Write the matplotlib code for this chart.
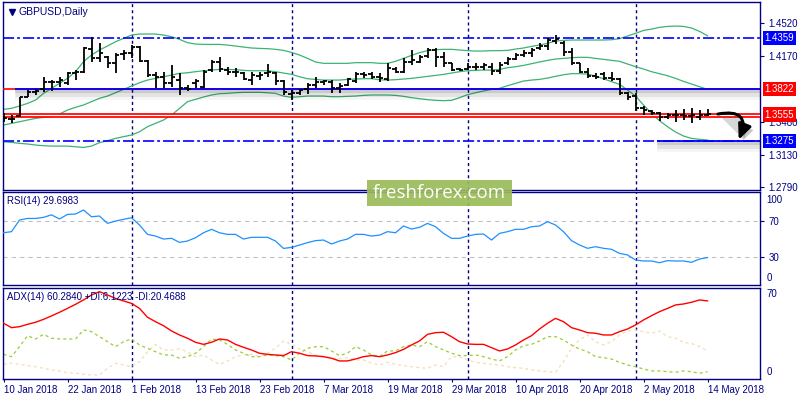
import matplotlib
matplotlib.use('Agg')
import matplotlib.pyplot as plt
import matplotlib.patheffects as pe
from matplotlib.patches import FancyArrowPatch, Rectangle
import numpy as np
import pandas as pd

plt.rcParams['font.family'] = ['Liberation Sans', 'DejaVu Sans']
plt.rcParams['lines.scale_dashes'] = False

# GBPUSD daily bars, 10 Jan - 14 May 2018
dates = pd.bdate_range('2018-01-10', '2018-05-14')

opens = [1.3532, 1.3504, 1.3539, 1.3742, 1.3795, 1.3820, 1.3900, 1.3897, 1.3890, 1.3988,
         1.4005, 1.4243, 1.4145, 1.4156, 1.4093, 1.4191, 1.4198, 1.4268, 1.4121, 1.3970,
         1.3953, 1.3883, 1.3918, 1.3830, 1.3890, 1.3847, 1.4023, 1.4110, 1.4023, 1.4005,
         1.3988, 1.3918, 1.3963, 1.3988, 1.3988, 1.3907, 1.3774, 1.3781, 1.3823, 1.3865,
         1.3900, 1.3900, 1.3830, 1.3865, 1.3911, 1.3981, 1.3977, 1.3953, 1.3925, 1.4030,
         1.4005, 1.4110, 1.4110, 1.4170, 1.4233, 1.4163, 1.4093, 1.4030, 1.4030, 1.4051,
         1.4058, 1.4058, 1.4016, 1.4093, 1.4138, 1.4180, 1.4198, 1.4250, 1.4275, 1.4331,
         1.4310, 1.4216, 1.4093, 1.4005, 1.3960, 1.3981, 1.3935, 1.3925, 1.3777, 1.3749,
         1.3620, 1.3595, 1.3567, 1.3532, 1.3550, 1.3550, 1.3539, 1.3532, 1.3550]
highs = [1.3567, 1.3550, 1.3742, 1.3812, 1.3823, 1.3946, 1.3918, 1.3946, 1.3998, 1.4023,
         1.4261, 1.4366, 1.4303, 1.4170, 1.4198, 1.4233, 1.4285, 1.4275, 1.4128, 1.4005,
         1.4005, 1.4075, 1.3988, 1.3860, 1.3925, 1.4023, 1.4128, 1.4156, 1.4058, 1.4040,
         1.4005, 1.4005, 1.4005, 1.4086, 1.4005, 1.3918, 1.3809, 1.3826, 1.3883, 1.3946,
         1.3918, 1.3918, 1.3890, 1.3935, 1.3998, 1.3998, 1.3998, 1.3995, 1.4093, 1.4058,
         1.4145, 1.4233, 1.4180, 1.4250, 1.4250, 1.4215, 1.4100, 1.4047, 1.4093, 1.4100,
         1.4100, 1.4100, 1.4110, 1.4163, 1.4198, 1.4233, 1.4250, 1.4303, 1.4356, 1.4391,
         1.4331, 1.4250, 1.4100, 1.4040, 1.3995, 1.4005, 1.4005, 1.3935, 1.3795, 1.3784,
         1.3644, 1.3602, 1.3585, 1.3574, 1.3602, 1.3609, 1.3620, 1.3602, 1.3609]
lows = [1.3479, 1.3462, 1.3532, 1.3735, 1.3760, 1.3795, 1.3806, 1.3848, 1.3865, 1.3918,
        1.3988, 1.4110, 1.4110, 1.4040, 1.3988, 1.4128, 1.4145, 1.4110, 1.3953, 1.3830,
        1.3830, 1.3848, 1.3760, 1.3800, 1.3830, 1.3830, 1.4005, 1.4005, 1.3970, 1.3953,
        1.3918, 1.3865, 1.3918, 1.3953, 1.3865, 1.3760, 1.3708, 1.3760, 1.3770, 1.3830,
        1.3865, 1.3785, 1.3785, 1.3855, 1.3883, 1.3935, 1.3925, 1.3900, 1.3911, 1.3988,
        1.3995, 1.4075, 1.4093, 1.4145, 1.4058, 1.4058, 1.4016, 1.4016, 1.4023, 1.4023,
        1.4023, 1.3970, 1.3981, 1.4075, 1.4128, 1.4163, 1.4163, 1.4233, 1.4233, 1.4296,
        1.4170, 1.4075, 1.3995, 1.3935, 1.3925, 1.3918, 1.3907, 1.3760, 1.3707, 1.3595,
        1.3550, 1.3550, 1.3490, 1.3504, 1.3479, 1.3497, 1.3462, 1.3497, 1.3539]
closes = [1.3514, 1.3511, 1.3735, 1.3795, 1.3802, 1.3900, 1.3897, 1.3918, 1.3988, 1.4005,
          1.4250, 1.4145, 1.4205, 1.4093, 1.4180, 1.4198, 1.4268, 1.4121, 1.3970, 1.3953,
          1.3883, 1.3946, 1.3830, 1.3823, 1.3907, 1.4005, 1.4103, 1.4029, 1.4005, 1.4002,
          1.3925, 1.3970, 1.3970, 1.4005, 1.3907, 1.3795, 1.3781, 1.3809, 1.3865, 1.3900,
          1.3907, 1.3830, 1.3855, 1.3925, 1.3981, 1.3970, 1.3953, 1.3935, 1.4040, 1.4005,
          1.4110, 1.4128, 1.4163, 1.4233, 1.4163, 1.4100, 1.4023, 1.4023, 1.4058, 1.4058,
          1.4075, 1.4016, 1.4075, 1.4138, 1.4180, 1.4198, 1.4233, 1.4275, 1.4338, 1.4345,
          1.4216, 1.4100, 1.4005, 1.3960, 1.3946, 1.3935, 1.3925, 1.3777, 1.3742, 1.3620,
          1.3602, 1.3567, 1.3532, 1.3550, 1.3550, 1.3539, 1.3550, 1.3550, 1.3560]

# Bollinger bands (20)
bb_upper = [1.3609, 1.3620, 1.3644, 1.3672, 1.3707, 1.3777, 1.3830, 1.3882, 1.3935, 1.4005,
            1.4110, 1.4180, 1.4233, 1.4275, 1.4320, 1.4355, 1.4390, 1.4401, 1.4401, 1.4401,
            1.4390, 1.4373, 1.4345, 1.4310, 1.4296, 1.4292, 1.4292, 1.4292, 1.4285, 1.4275,
            1.4264, 1.4254, 1.4250, 1.4247, 1.4240, 1.4229, 1.4208, 1.4180, 1.4145, 1.4107,
            1.4093, 1.4093, 1.4093, 1.4093, 1.4100, 1.4100, 1.4100, 1.4093, 1.4093, 1.4114,
            1.4145, 1.4177, 1.4205, 1.4226, 1.4236, 1.4240, 1.4240, 1.4233, 1.4226, 1.4222,
            1.4222, 1.4226, 1.4226, 1.4229, 1.4243, 1.4254, 1.4271, 1.4285, 1.4303, 1.4327,
            1.4334, 1.4338, 1.4338, 1.4338, 1.4338, 1.4338, 1.4341, 1.4352, 1.4380, 1.4408,
            1.4439, 1.4453, 1.4471, 1.4481, 1.4485, 1.4481, 1.4464, 1.4429, 1.4383]
bb_mid = [1.3444, 1.3462, 1.3479, 1.3497, 1.3514, 1.3525, 1.3532, 1.3560, 1.3602, 1.3630,
          1.3655, 1.3690, 1.3725, 1.3749, 1.3784, 1.3819, 1.3854, 1.3889, 1.3917, 1.3935,
          1.3952, 1.3970, 1.3987, 1.3994, 1.4005, 1.4015, 1.4022, 1.4029, 1.4029, 1.4026,
          1.4019, 1.4015, 1.4015, 1.4015, 1.4005, 1.3991, 1.3977, 1.3952, 1.3931, 1.3924,
          1.3917, 1.3917, 1.3917, 1.3924, 1.3928, 1.3931, 1.3932, 1.3920, 1.3917, 1.3921,
          1.3928, 1.3935, 1.3945, 1.3956, 1.3966, 1.3977, 1.3991, 1.4005, 1.4015, 1.4019,
          1.4022, 1.4022, 1.4029, 1.4047, 1.4057, 1.4071, 1.4089, 1.4107, 1.4124, 1.4138,
          1.4145, 1.4152, 1.4156, 1.4156, 1.4145, 1.4135, 1.4124, 1.4114, 1.4086, 1.4058,
          1.4033, 1.4005, 1.3984, 1.3963, 1.3935, 1.3903, 1.3875, 1.3847, 1.3819]
bb_lower = [1.3269, 1.3262, 1.3252, 1.3245, 1.3234, 1.3227, 1.3223, 1.3223, 1.3223, 1.3216,
            1.3209, 1.3223, 1.3259, 1.3280, 1.3304, 1.3322, 1.3339, 1.3374, 1.3427, 1.3462,
            1.3497, 1.3549, 1.3619, 1.3690, 1.3714, 1.3739, 1.3760, 1.3774, 1.3777, 1.3784,
            1.3788, 1.3788, 1.3788, 1.3784, 1.3777, 1.3749, 1.3735, 1.3742, 1.3749, 1.3749,
            1.3749, 1.3742, 1.3742, 1.3746, 1.3749, 1.3756, 1.3760, 1.3760, 1.3760, 1.3756,
            1.3746, 1.3732, 1.3721, 1.3711, 1.3704, 1.3700, 1.3704, 1.3732, 1.3763, 1.3784,
            1.3802, 1.3819, 1.3830, 1.3858, 1.3882, 1.3907, 1.3917, 1.3924, 1.3938, 1.3956,
            1.3973, 1.3984, 1.3984, 1.3980, 1.3959, 1.3931, 1.3900, 1.3872, 1.3812, 1.3749,
            1.3655, 1.3567, 1.3490, 1.3427, 1.3371, 1.3329, 1.3304, 1.3294, 1.3287]

rsi = [57.3, 58.5, 71.4, 73.2, 73.2, 74.4, 77.2, 72.6, 77.7, 78.1,
       82.6, 75.1, 75.9, 67.7, 70.3, 72.2, 74.0, 65.9, 55.5, 53.6,
       50.3, 51.1, 46.6, 48.1, 51.8, 57.3, 61.1, 57.3, 55.5, 55.5,
       50.3, 52.2, 52.2, 52.2, 48.1, 39.9, 41.0, 43.6, 46.3, 48.5,
       49.2, 44.8, 48.1, 50.3, 55.5, 55.5, 53.6, 54.7, 58.5, 57.3,
       64.8, 61.4, 63.3, 67.7, 64.0, 56.6, 51.1, 51.1, 53.6, 55.5,
       55.9, 49.2, 56.6, 58.5, 61.1, 61.1, 64.0, 64.8, 69.6, 65.9,
       58.5, 48.5, 43.7, 40.0, 41.8, 40.0, 38.9, 34.4, 32.6, 27.0,
       25.9, 25.9, 24.0, 26.3, 25.9, 25.9, 24.4, 28.1, 29.7]

adx = [42.4, 38.8, 39.6, 41.5, 43.2, 45.6, 48.4, 51.4, 54.6, 57.9,
       61.5, 65.6, 68.3, 65.6, 62.8, 60.7, 58.7, 54.6, 47.3, 43.7,
       40.4, 36.1, 32.8, 30.1, 26.8, 25.1, 26.8, 29.5, 28.7, 25.1,
       22.7, 20.5, 17.8, 16.9, 16.4, 15.9, 19.1, 17.8, 15.9, 15.6,
       15.0, 13.7, 11.5, 11.5, 13.1, 15.0, 15.9, 15.0, 16.4, 18.3,
       21.0, 24.6, 27.9, 33.3, 34.7, 35.0, 31.4, 27.3, 25.4, 25.1,
       25.1, 22.4, 19.7, 21.3, 24.6, 28.7, 32.2, 37.7, 42.4, 46.4,
       43.7, 38.8, 36.9, 34.7, 34.2, 32.8, 32.8, 35.5, 37.7, 41.0,
       45.1, 48.6, 51.9, 54.6, 57.4, 58.2, 59.6, 61.5, 60.7]
plus_di = [17.0, 15.0, 23.2, 32.2, 29.5, 33.3, 30.1, 29.5, 29.5, 29.5,
           36.9, 35.5, 31.4, 27.3, 23.2, 27.3, 29.5, 24.6, 21.9, 19.1,
           16.4, 16.4, 13.7, 15.0, 17.8, 23.2, 29.5, 28.7, 25.1, 20.5,
           17.8, 15.0, 15.0, 16.4, 15.9, 15.0, 12.3, 17.8, 21.9, 23.2,
           23.2, 19.7, 15.9, 17.8, 23.2, 20.5, 16.4, 15.0, 19.7, 19.7,
           23.2, 24.6, 23.2, 27.3, 23.2, 20.5, 17.8, 15.9, 15.9, 16.4,
           15.0, 13.1, 11.5, 15.0, 20.5, 24.0, 25.1, 27.9, 31.4, 31.4,
           28.7, 24.6, 21.3, 19.1, 15.0, 14.2, 13.1, 10.4, 8.2, 6.8,
           4.9, 3.3, 3.3, 2.7, 2.2, 3.3, 2.7, 1.4, 2.7]
minus_di = [8.7, 9.6, 8.7, 7.7, 6.8, 5.5, 4.1, 3.3, 1.9, 1.4,
            0.6, 0.0, 0.0, 5.5, 9.6, 8.2, 6.8, 10.9, 19.1, 25.1,
            20.5, 20.5, 21.3, 19.1, 15.0, 16.4, 12.3, 8.7, 11.5, 15.0,
            16.4, 16.9, 15.0, 17.8, 21.9, 27.9, 25.1, 21.3, 19.1, 16.4,
            15.0, 14.2, 13.7, 14.2, 12.3, 12.3, 9.6, 8.2, 10.4, 8.7,
            7.7, 6.8, 6.0, 5.5, 8.2, 6.8, 15.0, 15.0, 12.3, 10.4,
            9.6, 8.7, 8.2, 6.8, 6.0, 5.5, 4.1, 3.3, 2.7, 2.2,
            10.9, 21.9, 28.7, 32.8, 27.3, 24.6, 27.3, 32.8, 36.1, 36.9,
            35.5, 34.2, 36.1, 31.4, 30.1, 26.8, 25.9, 23.2, 19.9]

# drawn levels
resistance_hi = 1.4359
resistance = 1.3822
pivot = 1.3555
support = 1.3275
price_ticks = [1.4520, 1.4170, 1.3480, 1.3130, 1.2790]

navy = '#000080'
blue = '#0000ff'
red = '#ff0000'
W, H = 800, 400
fig = plt.figure(figsize=(8, 4), dpi=100)


def px_axes(l, t, r, b):
    return fig.add_axes([l / W, 1 - b / H, (r - l) / W, (b - t) / H])


ax1 = px_axes(2.5, 2, 760, 190)
ax2 = px_axes(2.5, 192, 760, 285)
ax3 = px_axes(2.5, 288, 760, 379)

x = np.arange(len(dates))
xmin, xmax = -0.125, 94.56
month_starts = [i for i in range(1, len(dates)) if dates[i].month != dates[i - 1].month]

for ax in (ax1, ax2, ax3):
    ax.set_xlim(xmin, xmax)
    for s in ax.spines.values():
        s.set_color(navy)
        s.set_linewidth(1.0)
    ax.tick_params(axis='x', bottom=False, labelbottom=False)
    ax.yaxis.tick_right()
    ax.tick_params(axis='y', colors=navy, labelcolor=navy, length=3, width=0.8,
                   labelsize=7, pad=3)
    for m in month_starts:
        ax.axvline(m, color=navy, lw=1.0, dashes=(2.2, 2.2), zorder=1)

# ---- price panel
ax1.set_ylim(1.27615, 1.47376)
ax1.set_yticks(price_ticks)
ax1.set_yticklabels([f'{v:.4f}' for v in price_ticks])

ax1.plot(x, bb_upper, color='#3CB371', lw=0.9, zorder=2)
ax1.plot(x, bb_mid, color='#3CB371', lw=0.9, zorder=2)
ax1.plot(x, bb_lower, color='#3CB371', lw=0.9, zorder=2)

ax1.vlines(x, lows, highs, color='black', lw=1.3, zorder=4)
ax1.hlines(opens, x - 0.4, x, color='black', lw=1.3, zorder=4)
ax1.hlines(closes, x, x + 0.4, color='black', lw=1.3, zorder=4)

shadow = [pe.SimpleLineShadow(offset=(0, -1.2), shadow_color='k', alpha=0.10, linewidth=3),
          pe.SimpleLineShadow(offset=(0, -2.5), shadow_color='k', alpha=0.07, linewidth=5),
          pe.SimpleLineShadow(offset=(0, -4), shadow_color='k', alpha=0.04, linewidth=7),
          pe.Normal()]

ax1.axhline(resistance_hi, color=blue, lw=1.2, dashes=(8, 2.2, 2, 2.2), zorder=3)
ax1.axhline(support, color=blue, lw=1.2, dashes=(8, 2.2, 2, 2.2), zorder=3)
ax1.plot([81.7, xmax], [support, support], color=blue, lw=1.3, zorder=3,
         path_effects=shadow, solid_capstyle='butt')
ax1.axhline(resistance, color=red, lw=1.2, zorder=3)
ax1.plot([1.44, xmax], [resistance, resistance], color=blue, lw=1.3, zorder=3,
         path_effects=shadow, solid_capstyle='butt')
ax1.axhline(pivot, color=red, lw=3.4, zorder=3)
ax1.axhline(pivot, color='white', lw=0.9, zorder=3)

trans = ax1.get_yaxis_transform()
for lvl, col in [(resistance_hi, blue), (resistance, red), (pivot, red), (support, blue)]:
    ax1.text(1.0062, lvl, f'{lvl:.4f}', transform=trans, ha='left', va='center',
             color='white', fontsize=7, clip_on=False, zorder=6,
             bbox=dict(boxstyle='square,pad=0.22', fc=col, ec='none'))

# forecast arrow
arrow_from = (89.3, 1.3560)
arrow_to = (91.9, 1.3290)
arrow = FancyArrowPatch(arrow_from, arrow_to, connectionstyle='arc3,rad=-0.9',
                        arrowstyle='-|>,head_length=0.45,head_width=0.2',
                        mutation_scale=20, lw=2.2, color='black',
                        clip_on=False, zorder=6, shrinkA=0, shrinkB=0,
                        path_effects=[pe.SimplePatchShadow(offset=(2.5, -2.5), alpha=0.22),
                                      pe.Normal()])
ax1.add_patch(arrow)

ax1.plot([0.012], [0.947], marker='v', ms=4, color=navy, transform=ax1.transAxes)
ax1.text(0.021, 0.947, 'GBPUSD,Daily', transform=ax1.transAxes, color=navy,
         fontsize=7.5, va='center', ha='left')

# ---- RSI panel
ax2.set_ylim(-0.8, 102.6)
ax2.plot(x, rsi, color='#1E90FF', lw=0.9, zorder=3)
for lv in (30, 70):
    ax2.axhline(lv, color='#C0C0C0', lw=0.8, dashes=(3, 3), zorder=1)
ax2.set_yticks([30, 70])
ax2.set_yticklabels(['30', '70'])
for lab, fy in [('100', 0.915), ('0', 0.072)]:
    ax2.text(1.0085, fy, lab, transform=ax2.transAxes, color=navy, fontsize=7,
             ha='left', va='center')
ax2.text(0.006, 0.9, 'RSI(14) 29.6983', transform=ax2.transAxes, color=navy,
         fontsize=7, ha='left', va='center')

# ---- ADX panel
ax3.set_ylim(-3.3, 71.3)
ax3.plot(x, minus_di, color='#F5DEB3', lw=0.9, dashes=(2.2, 2.2), zorder=2)
ax3.plot(x, plus_di, color='#9ACD32', lw=0.9, dashes=(2.2, 2.2), zorder=2)
ax3.plot(x, adx, color=red, lw=1.0, zorder=3)
ax3.set_yticks([])
for lab, fy in [('70', 0.93), ('0', 0.074)]:
    ax3.text(1.0085, fy, lab, transform=ax3.transAxes, color=navy, fontsize=7,
             ha='left', va='center')
ax3.text(0.006, 0.9, 'ADX(14) 60.2840 +DI:6.1223 -DI:20.4688', transform=ax3.transAxes,
         color=navy, fontsize=7, ha='left', va='center')

ax3.set_xticks(x[::8])
ax3.set_xticklabels([f'{d.day} {d:%b %Y}' for d in dates[::8]], ha='left')
ax3.tick_params(axis='x', bottom=True, labelbottom=True, colors=navy, labelcolor=navy,
                length=2, labelsize=7, pad=2)

# watermark
fig.add_artist(Rectangle((367 / W, 1 - 206 / H), 145 / W, 26 / H, transform=fig.transFigure,
                         facecolor='#9BBB59', edgecolor='none', alpha=0.93, zorder=10))
fig.text(439.5 / W, 1 - 193.5 / H, 'freshforex.com', ha='center', va='center',
         color='white', fontsize=13.5, family='Open Sans', zorder=11)

fig.savefig('out.png', dpi=100)
